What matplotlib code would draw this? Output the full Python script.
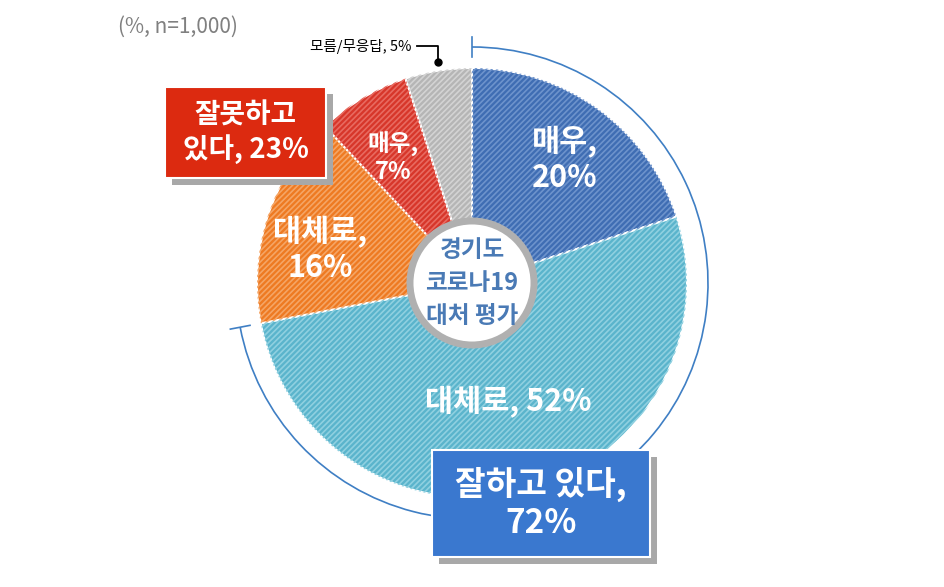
import matplotlib
matplotlib.use("Agg")
import matplotlib.pyplot as plt
from matplotlib.patches import Arc, Rectangle, Circle
import numpy as np

plt.rcParams['font.family'] = 'Noto Sans CJK KR'
plt.rcParams['hatch.linewidth'] = 1.2

labels = ["매우,\n20%", "대체로, 52%", "대체로,\n16%", "매우,\n7%", "모름/무응답, 5%"]
values = [20, 52, 16, 7, 5]
colors = ["#3f6db3", "#5ab4cc", "#ee7a22", "#d7362a", "#b5b5b5"]
hatch_colors = ["#6d93cc", "#8fd0e0", "#f5a565", "#e86a60", "#d3d3d3"]
group_labels = ["잘하고 있다,\n72%", "잘못하고\n있다, 23%"]

W, H = 945, 587
fig = plt.figure(figsize=(W/100, H/100), dpi=100)
ax = fig.add_axes([0, 0, 1, 1])
ax.set_xlim(0, W); ax.set_ylim(0, H); ax.set_aspect('equal'); ax.axis('off')

cx, cy, R = 472, H-283, 215
wedges, _ = ax.pie(values, colors=colors, startangle=90, counterclock=False,
                   center=(cx, cy), radius=R, frame=True,
                   wedgeprops=dict(width=R-60, edgecolor='white', linewidth=1.5))
w2, _ = ax.pie(values, colors=['none']*5, startangle=90, counterclock=False,
               center=(cx, cy), radius=R, frame=True,
               wedgeprops=dict(width=R-60, linewidth=0))
for w, hc in zip(w2, hatch_colors):
    w.set_hatch('//////'); w.set_edgecolor(hc); w.set_linewidth(0)
ax.set_xlim(0, W); ax.set_ylim(0, H); ax.axis('off')

# center circle
ax.add_patch(Circle((cx, cy), 62, facecolor='white', edgecolor='#b0b0b0', linewidth=5, zorder=5))
ax.text(cx, cy, "경기도\n코로나19\n대처 평가", ha='center', va='center', color='#4a7ab5',
        fontsize=17, fontweight='bold', linespacing=1.45, zorder=6)

# slice labels
pos = [(565, H-160), (508, H-402), (320, H-250), (393, H-158)]
sizes = [22, 22, 22, 17]
for (x, y), t, s in zip(pos, labels[:4], sizes):
    ax.text(x, y, t, ha='center', va='center', color='white', fontsize=s,
            fontweight='bold', linespacing=1.15, zorder=6)

# 72% bracket arc
theta2 = 90
theta1 = 90 - 0.72*360
ra = 236
ax.add_patch(Arc((cx, cy), 2*ra, 2*ra, theta1=theta1, theta2=theta2, color='#3f7fc4', lw=1.2))
for th in (theta1, theta2):
    t = np.radians(th)
    ax.plot([cx+(ra-10)*np.cos(t), cx+(ra+10)*np.cos(t)],
            [cy+(ra-10)*np.sin(t), cy+(ra+10)*np.sin(t)], color='#3f7fc4', lw=1.2)

# boxes
def box(x0, y0, x1, y1, fc, text, fs):
    ax.add_patch(Rectangle((x0+7, H-y1-7), x1-x0, y1-y0, facecolor='#a8a8a8', zorder=7))
    ax.add_patch(Rectangle((x0, H-y1), x1-x0, y1-y0, facecolor=fc, edgecolor='white', lw=1.5, zorder=8))
    ax.text((x0+x1)/2, H-(y0+y1)/2, text, ha='center', va='center', color='white',
            fontsize=fs, fontweight='bold', linespacing=1.2, zorder=9)

box(432, 450, 650, 557, '#3a78cf', group_labels[0], 24)
box(165, 87, 326, 178, '#dc2a10', group_labels[1], 20)

# unknown callout
ax.text(412, H-46, labels[4], ha='right', va='center', fontsize=10.5, color='black')
ax.plot([417, 438, 438], [H-46, H-46, H-62], color='black', lw=1.3)
ax.plot([438], [H-62], 'o', color='black', ms=5)

ax.text(118, H-27, "(%, n=1,000)", ha='left', va='center', fontsize=15, color='#808080')

fig.savefig("out.png", dpi=100)
